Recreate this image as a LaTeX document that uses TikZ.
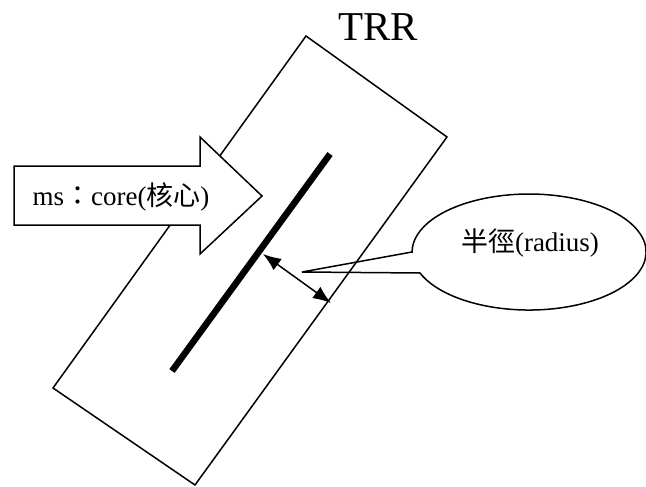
\documentclass[tikz,border=0pt]{standalone}
\usepackage{fontspec}
\setmainfont{Liberation Serif}
\newfontfamily\cjk{Noto Sans CJK TC}
\usetikzlibrary{arrows.meta}
\tikzset{
  outline/.style={draw=black, line width=1.5pt, line join=miter},
  core/.style={draw=black, line width=6.5pt, line cap=butt},
  dim/.style={draw=black, line width=1.5pt, {Latex[length=18pt,width=14pt]}-{Latex[length=18pt,width=14pt]}},
  lbl/.style={inner sep=0pt, font=\fontsize{27}{30}\selectfont},
}
\begin{document}
\begin{tikzpicture}[x=1pt,y=1pt]
\useasboundingbox (0,0) rectangle (646,-487);
% rotated box
\coordinate (rt) at (306,-36);
\coordinate (rr) at (447,-137);
\coordinate (rb) at (195,-485);
\coordinate (rl) at (53,-388);
\draw[outline] (rt) -- (rr) -- (rb) -- (rl) -- cycle;
% core line
\coordinate (c1) at (330,-154);
\coordinate (c2) at (172,-371);
\draw[core] (c1) -- (c2);
% block arrow
\draw[outline, fill=white] (14,-166) -- (200,-166) -- (200,-137) -- (262,-196)
  -- (200,-254) -- (200,-225) -- (14,-225) -- cycle;
\node[lbl] (ms) at (121,-197) {ms{\cjk ：}core({\cjk 核心})};
% radius dimension
\coordinate (d1) at (263,-254);
\coordinate (d2) at (331,-303);
\draw[dim] (d1) -- (d2);
% callout
\coordinate (tip) at (302,-272);
\draw[outline] (412,-252) -- (tip) -- (420,-273)
  arc[start angle=201.2, end angle=540, x radius=117, y radius=58] -- cycle;
\node[lbl] (rad) at (530,-243) {{\cjk 半徑}(radius)};
% title
\node[inner sep=0pt, font=\fontsize{41}{44}\selectfont] (title) at (378,-27) {TRR};
\end{tikzpicture}
\end{document}
